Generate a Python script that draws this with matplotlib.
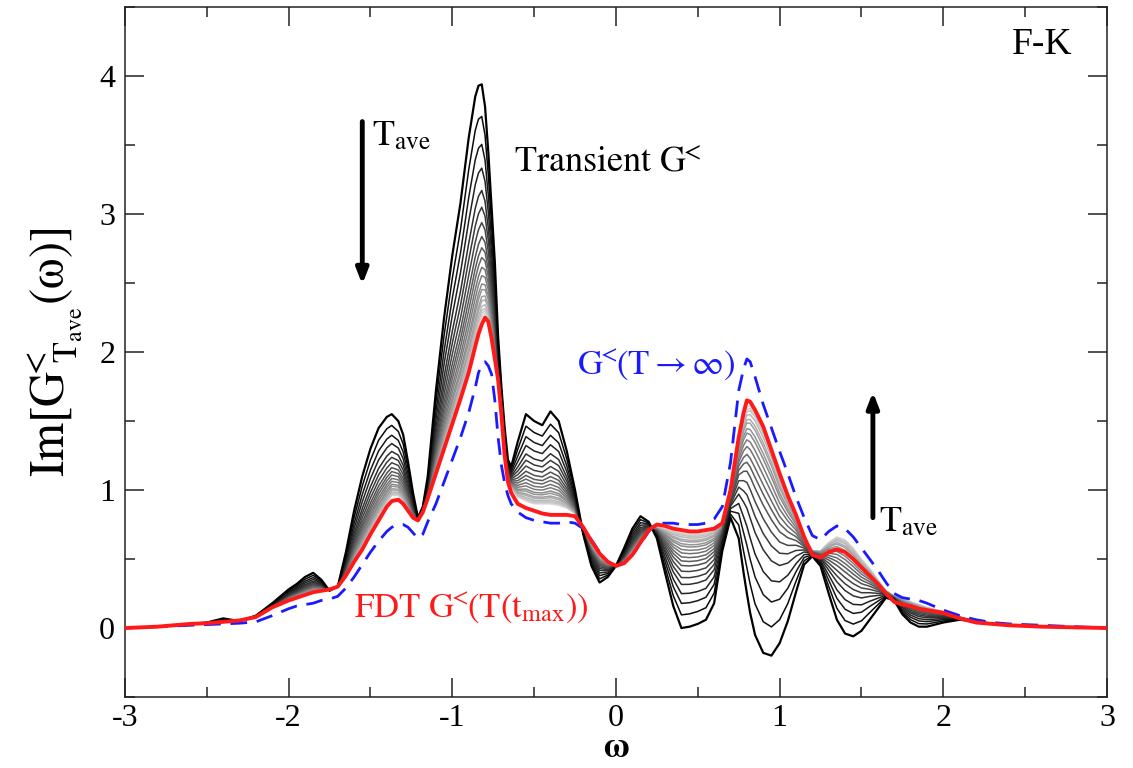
import numpy as np
import matplotlib
matplotlib.use("Agg")
import matplotlib.pyplot as plt
from matplotlib.ticker import MultipleLocator

plt.rcParams['font.family'] = ['Liberation Serif', 'DejaVu Serif']
plt.rcParams['mathtext.fontset'] = 'stix'
plt.rcParams['axes.unicode_minus'] = False

# frequency grid
omega = [-3.0, -2.8, -2.6, -2.5, -2.4, -2.3, -2.2, -2.1, -2.0, -1.95,
         -1.9, -1.85, -1.8, -1.75, -1.7, -1.65, -1.6, -1.55, -1.5, -1.45,
         -1.4, -1.37, -1.33, -1.3, -1.27, -1.24, -1.21, -1.18, -1.15, -1.1,
         -1.05, -1.0, -0.95, -0.9, -0.86, -0.84, -0.82, -0.8, -0.78, -0.76,
         -0.74, -0.72, -0.7, -0.68, -0.66, -0.64, -0.6, -0.55, -0.5, -0.45,
         -0.4, -0.35, -0.3, -0.25, -0.2, -0.15, -0.1, -0.05, 0.0, 0.05,
         0.1, 0.15, 0.2, 0.25, 0.3, 0.35, 0.4, 0.45, 0.5, 0.55,
         0.6, 0.65, 0.7, 0.75, 0.78, 0.8, 0.82, 0.85, 0.9, 0.95,
         1.0, 1.05, 1.1, 1.15, 1.2, 1.25, 1.3, 1.35, 1.4, 1.45,
         1.5, 1.55, 1.6, 1.65, 1.7, 1.75, 1.8, 1.85, 1.9, 2.0,
         2.1, 2.2, 2.3, 2.4, 2.6, 2.8, 3.0]

# earliest transient G< (black, outermost)
g_first = [0.00, 0.01, 0.03, 0.04, 0.07, 0.05, 0.09, 0.18, 0.28, 0.32,
           0.37, 0.40, 0.35, 0.27, 0.30, 0.55, 0.85, 1.10, 1.30, 1.45,
           1.53, 1.55, 1.50, 1.40, 1.20, 0.98, 0.80, 0.88, 1.10, 1.72,
           2.25, 2.70, 3.08, 3.55, 3.85, 3.93, 3.94, 3.78, 3.45, 3.05,
           2.65, 2.11, 1.75, 1.45, 1.22, 1.17, 1.35, 1.55, 1.50, 1.47,
           1.57, 1.50, 1.28, 1.00, 0.68, 0.45, 0.33, 0.37, 0.45, 0.58,
           0.72, 0.81, 0.77, 0.65, 0.40, 0.16, 0.00, 0.01, 0.03, 0.06,
           0.18, 0.56, 0.80, 0.65, 0.40, 0.25, 0.11, -0.05, -0.18, -0.20,
           -0.11, 0.05, 0.26, 0.46, 0.52, 0.45, 0.25, 0.06, -0.04, -0.06,
           -0.02, 0.06, 0.14, 0.22, 0.20, 0.10, 0.04, 0.01, 0.01, 0.04,
           0.06, 0.05, 0.03, 0.02, 0.01, 0.005, 0.0]

# latest transient G< (lightest gray)
g_last = [0.00, 0.01, 0.03, 0.035, 0.045, 0.055, 0.08, 0.15, 0.21, 0.23,
          0.25, 0.27, 0.28, 0.28, 0.30, 0.38, 0.49, 0.59, 0.70, 0.81,
          0.91, 0.96, 0.96, 0.92, 0.86, 0.80, 0.78, 0.84, 0.95, 1.13,
          1.32, 1.50, 1.68, 1.88, 2.08, 2.18, 2.26, 2.28, 2.24, 2.12,
          1.97, 1.82, 1.58, 1.28, 1.09, 1.02, 0.95, 0.92, 0.90, 0.90,
          0.90, 0.89, 0.87, 0.83, 0.70, 0.60, 0.52, 0.47, 0.45, 0.48,
          0.55, 0.63, 0.71, 0.73, 0.72, 0.70, 0.69, 0.68, 0.68, 0.69,
          0.71, 0.76, 0.98, 1.35, 1.52, 1.60, 1.61, 1.57, 1.45, 1.30,
          1.12, 0.97, 0.83, 0.66, 0.56, 0.56, 0.62, 0.66, 0.64, 0.58,
          0.50, 0.43, 0.35, 0.27, 0.23, 0.21, 0.19, 0.17, 0.15, 0.12,
          0.08, 0.05, 0.03, 0.02, 0.01, 0.005, 0.0]

# peak height near omega=-0.82 of each transient curve, first to last
peak_heights = [3.94, 3.71, 3.51, 3.34, 3.18, 3.06, 2.95, 2.85, 2.77, 2.70,
                2.63, 2.57, 2.51, 2.47, 2.42, 2.39, 2.35, 2.32, 2.30, 2.28]

# FDT G<(T(t_max)) (red)
g_fdt = [0.00, 0.01, 0.03, 0.035, 0.045, 0.055, 0.08, 0.15, 0.20, 0.22,
         0.24, 0.26, 0.27, 0.28, 0.30, 0.38, 0.48, 0.57, 0.68, 0.78,
         0.88, 0.92, 0.93, 0.90, 0.85, 0.80, 0.78, 0.84, 0.94, 1.12,
         1.30, 1.48, 1.66, 1.85, 2.04, 2.13, 2.20, 2.25, 2.22, 2.10,
         1.95, 1.80, 1.55, 1.25, 1.06, 0.98, 0.90, 0.87, 0.85, 0.83,
         0.82, 0.82, 0.82, 0.81, 0.73, 0.63, 0.54, 0.48, 0.45, 0.47,
         0.53, 0.62, 0.71, 0.75, 0.74, 0.72, 0.71, 0.70, 0.70, 0.71,
         0.72, 0.76, 1.00, 1.38, 1.56, 1.65, 1.64, 1.58, 1.46, 1.29,
         1.12, 0.96, 0.82, 0.66, 0.53, 0.51, 0.55, 0.57, 0.55, 0.50,
         0.44, 0.38, 0.32, 0.25, 0.19, 0.17, 0.16, 0.14, 0.13, 0.11,
         0.07, 0.04, 0.03, 0.02, 0.01, 0.005, 0.0]

# G<(T -> infinity) (blue dashed)
g_inf = [0.00, 0.01, 0.02, 0.025, 0.03, 0.035, 0.045, 0.09, 0.14, 0.16,
         0.17, 0.18, 0.20, 0.21, 0.23, 0.29, 0.37, 0.46, 0.55, 0.63,
         0.70, 0.73, 0.75, 0.75, 0.73, 0.69, 0.65, 0.68, 0.77, 0.90,
         1.06, 1.22, 1.38, 1.56, 1.74, 1.85, 1.91, 1.93, 1.90, 1.84,
         1.65, 1.38, 1.18, 1.05, 0.96, 0.90, 0.84, 0.80, 0.78, 0.77,
         0.76, 0.76, 0.77, 0.76, 0.72, 0.64, 0.55, 0.48, 0.45, 0.47,
         0.53, 0.61, 0.70, 0.76, 0.76, 0.76, 0.75, 0.75, 0.75, 0.76,
         0.79, 0.88, 1.20, 1.72, 1.88, 1.95, 1.93, 1.82, 1.62, 1.45,
         1.28, 1.12, 0.95, 0.80, 0.67, 0.64, 0.70, 0.74, 0.72, 0.66,
         0.58, 0.50, 0.42, 0.33, 0.25, 0.22, 0.21, 0.20, 0.18, 0.13,
         0.09, 0.06, 0.04, 0.03, 0.02, 0.01, 0.0]

w = np.array(omega)
first = np.array(g_first)
last = np.array(g_last)
peaks = np.array(peak_heights)
weights = (peaks - peaks[-1]) / (peaks[0] - peaks[-1])

fig = plt.figure(figsize=(11.33, 7.68), dpi=100)
ax = fig.add_axes([0.1103, 0.0924, 0.8667, 0.8984])

n = len(peaks)
for k in range(n - 1, -1, -1):
    shade = 0.85 * k / (n - 1)
    curve = last + weights[k] * (first - last)
    ax.plot(w, curve, color=(shade, shade, shade),
            lw=1.6 if k == 0 else 1.1, zorder=2, solid_joinstyle='round')

ax.plot(w, g_inf, color='#1a1aff', lw=2.0, ls=(0, (6, 3.5)), zorder=3)
ax.plot(w, g_fdt, color='#ff1a1a', lw=2.8, zorder=4, solid_joinstyle='round')

ax.set_xlim(-3, 3)
ax.set_ylim(-0.5, 4.5)
ax.xaxis.set_major_locator(MultipleLocator(1))
ax.xaxis.set_minor_locator(MultipleLocator(0.5))
ax.yaxis.set_major_locator(MultipleLocator(1))
ax.yaxis.set_minor_locator(MultipleLocator(0.5))
ax.tick_params(which='both', direction='in', top=True, right=True,
               width=1.1, colors='#222222', labelcolor='black')
ax.tick_params(which='major', length=14, labelsize=23, pad=7)
ax.tick_params(axis='x', which='major', pad=5)
ax.tick_params(which='minor', length=7)
for s in ax.spines.values():
    s.set_linewidth(1.1)
    s.set_color('#222222')

LT = r'{\!\!<\!\!}'
ax.set_xlabel(r'$\mathbf{\omega}$', fontsize=25, va='bottom')
ax.xaxis.set_label_coords(0.5, -0.0986)
ax.set_ylabel(r'$\mathrm{Im[G}^{' + LT + r'}_{\ \mathrm{T}_{\mathrm{ave}}}\mathrm{(\omega)]}$',
              fontsize=35)
ax.yaxis.set_label_coords(-0.042, 0.5)

# annotations
ax.text(2.42, 4.16, 'F-K', fontsize=27)
ax.text(-0.62, 3.31, r'$\mathrm{Transient\ G}^{' + LT + r'}$', fontsize=26)
ax.text(-0.24, 1.84, r'$\mathrm{G}^{' + LT + r'}\mathrm{(T\rightarrow\infty)}$',
        fontsize=25, color='#1a1aff')
ax.text(-1.6, 0.08,
        r'$\mathrm{FDT\ G}^{' + LT + r'}\mathrm{(T(t}_{\mathrm{max}}\mathrm{))}$',
        fontsize=25, color='#ff1a1a')

ax.annotate('', xy=(-1.55, 2.49), xytext=(-1.55, 3.67),
            arrowprops=dict(arrowstyle='-|>,head_length=0.9,head_width=0.35',
                            lw=3.5, color='black', shrinkA=0, shrinkB=0))
ax.text(-1.49, 3.5, r'$\mathrm{T}_{\mathrm{ave}}$', fontsize=26)
ax.annotate('', xy=(1.57, 1.71), xytext=(1.57, 0.80),
            arrowprops=dict(arrowstyle='-|>,head_length=0.9,head_width=0.35',
                            lw=3.5, color='black', shrinkA=0, shrinkB=0))
ax.text(1.61, 0.70, r'$\mathrm{T}_{\mathrm{ave}}$', fontsize=26)

fig.savefig('out.png', dpi=100)
